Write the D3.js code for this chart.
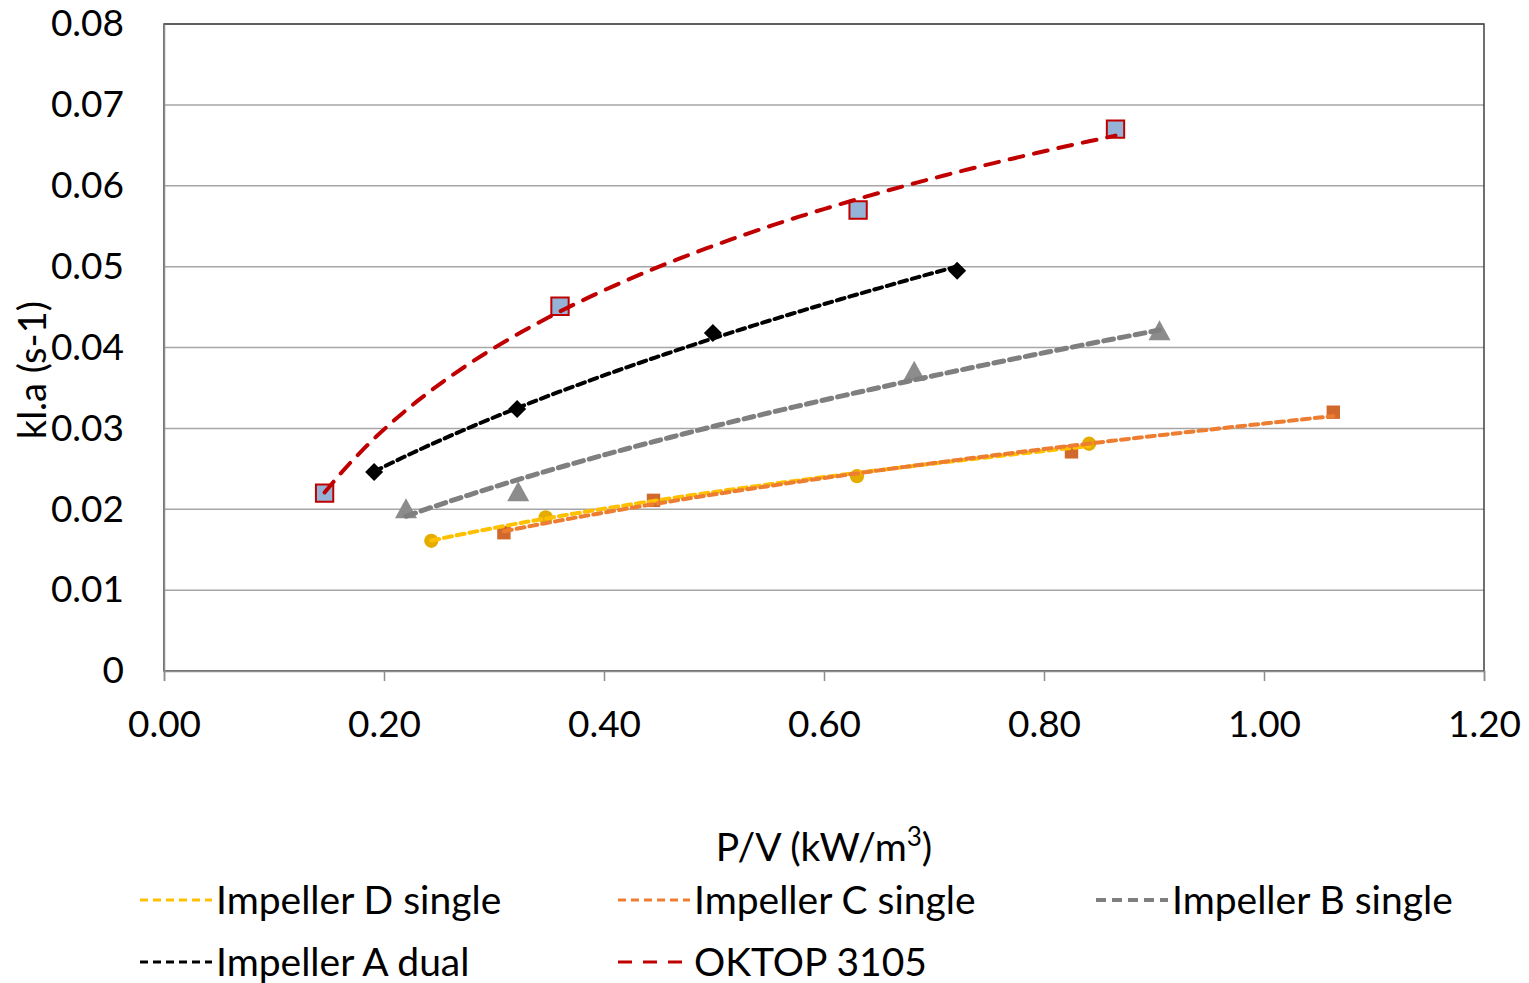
<!DOCTYPE html>
<html>
<head>
<meta charset="utf-8">
<script src="https://cdn.jsdelivr.net/npm/d3@7"></script>
<style>
  body { margin: 0; background: #fff; }
  text { font-family: Lato, "Open Sans", sans-serif; fill: #000; }
</style>
</head>
<body>
<div id="chart"></div>
<script>

var width = 1529,
    height = 983;

// data (P/V in kW/m3, kl.a in s-1)
var seriesNames = ["Impeller D single", "Impeller C single", "Impeller B single", "Impeller A dual", "OKTOP 3105"];

var impellerD_x = [0.243, 0.347, 0.630, 0.841];
var impellerD_y = [0.0161, 0.0190, 0.0241, 0.0281];

var impellerC_x = [0.309, 0.445, 0.825, 1.063];
var impellerC_y = [0.0171, 0.0211, 0.0271, 0.0320];

var impellerB_x = [0.220, 0.322, 0.682, 0.905];
var impellerB_y = [0.0200, 0.0221, 0.0370, 0.0420];

var impellerA_x = [0.191, 0.321, 0.499, 0.721];
var impellerA_y = [0.0246, 0.0324, 0.0418, 0.0495];

var oktop_x = [0.146, 0.360, 0.631, 0.865];
var oktop_y = [0.0220, 0.0451, 0.0570, 0.0670];

var xTicks = [0, 0.2, 0.4, 0.6, 0.8, 1.0, 1.2];
var yTicks = [0, 0.01, 0.02, 0.03, 0.04, 0.05, 0.06, 0.07, 0.08];

// trend type per series: power for the impellers, logarithmic for the OKTOP
var series = [
  { name: seriesNames[0], xs: impellerD_x, ys: impellerD_y, trend: "power", marker: "circle",   fill: "#e5ac00", stroke: "none",    line: "#ffc000", dash: "8,5",   lw: 4 },
  { name: seriesNames[1], xs: impellerC_x, ys: impellerC_y, trend: "power", marker: "square",   fill: "#d2692c", stroke: "none",    line: "#ed7d31", dash: "8,5",   lw: 4 },
  { name: seriesNames[2], xs: impellerB_x, ys: impellerB_y, trend: "power", marker: "triangle", fill: "#8c8c8c", stroke: "none",    line: "#7f7f7f", dash: "10,6",  lw: 5 },
  { name: seriesNames[3], xs: impellerA_x, ys: impellerA_y, trend: "power", marker: "diamond",  fill: "#000000", stroke: "none",    line: "#000000", dash: "8,5",   lw: 4 },
  { name: seriesNames[4], xs: oktop_x,     ys: oktop_y,     trend: "log",   marker: "bigsquare",fill: "#95b3d7", stroke: "#c00000", line: "#c00000", dash: "14,11", lw: 4 }
];

var margin = { top: 24, left: 164, right: 1529 - 1484, bottom: 983 - 671 };

var svg = d3.select("#chart").append("svg")
    .attr("width", width)
    .attr("height", height);

svg.append("rect").attr("width", width).attr("height", height).attr("fill", "#fff");

var x = d3.scaleLinear().domain([0, 1.2]).range([margin.left, width - margin.right]);
var y = d3.scaleLinear().domain([0, 0.08]).range([height - margin.bottom, margin.top]);

// gridlines
svg.append("g")
  .selectAll("line")
    .data(yTicks.slice(1))
  .enter().append("line")
    .attr("x1", x(0)).attr("x2", x(1.2))
    .attr("y1", function(d) { return y(d); })
    .attr("y2", function(d) { return y(d); })
    .attr("stroke", "#a6a6a6")
    .attr("stroke-width", 1.5);

// plot frame
svg.append("rect")
    .attr("x", x(0)).attr("y", y(0.08))
    .attr("width", x(1.2) - x(0)).attr("height", y(0) - y(0.08))
    .attr("fill", "none")
    .attr("stroke", "#404040")
    .attr("stroke-width", 1.5);

// x axis
var xAxis = d3.axisBottom(x).tickValues(xTicks).tickSize(10).tickPadding(30)
    .tickFormat(d3.format(".2f"));
var gx = svg.append("g").attr("transform", "translate(0," + y(0) + ")").call(xAxis);
gx.select(".domain").attr("stroke", "#8c8c8c").attr("stroke-width", 1.5);
gx.selectAll(".tick line").attr("stroke", "#8c8c8c").attr("stroke-width", 1.5);
gx.selectAll("text").style("font-size", "37px").attr("fill", "#000");

// y axis
var yAxis = d3.axisLeft(y).tickValues(yTicks).tickSize(0).tickPadding(40)
    .tickFormat(function(d) { return d === 0 ? "0" : d3.format(".2f")(d); });
var gy = svg.append("g").attr("transform", "translate(" + x(0) + ",0)").call(yAxis);
gy.select(".domain").attr("stroke", "#8c8c8c").attr("stroke-width", 1.5);
gy.selectAll("text").style("font-size", "37px").attr("fill", "#000");

// axis titles
svg.append("text")
    .attr("transform", "translate(46," + y(0.0372) + ") rotate(-90)")
    .attr("text-anchor", "middle")
    .style("font-size", "38px")
    .text("kl.a (s-1)");

var xt = svg.append("text")
    .attr("x", x(0.6))
    .attr("y", 861)
    .attr("text-anchor", "middle")
    .style("font-size", "39px");
xt.append("tspan").text("P/V (kW/m");
xt.append("tspan").attr("dy", -15).style("font-size", "26px").text("3");
xt.append("tspan").attr("dy", 15).text(")");

// markers
function markerPath(type) {
  if (type === "circle") return d3.symbol().type(d3.symbolCircle).size(160)();
  if (type === "square") return d3.symbol().type(d3.symbolSquare).size(180)();
  if (type === "bigsquare") return d3.symbol().type(d3.symbolSquare).size(300)();
  if (type === "triangle") return "M0,-11L11,9L-11,9Z";
  if (type === "diamond") return "M0,-9L9,0L0,9L-9,0Z";
}

series.forEach(function(s) {
  svg.append("g")
    .selectAll("path")
      .data(s.xs.map(function(v, i) { return [v, s.ys[i]]; }))
    .enter().append("path")
      .attr("d", markerPath(s.marker))
      .attr("transform", function(d) { return "translate(" + x(d[0]) + "," + y(d[1]) + ")"; })
      .attr("fill", s.fill)
      .attr("stroke", s.stroke)
      .attr("stroke-width", 2);
});

// least squares trendlines, y = a*x^b (power) or y = a + b*ln(x) (log)
function trendFit(xs, ys, type) {
  var lx = xs.map(Math.log);
  var ly = type === "power" ? ys.map(Math.log) : ys.slice();
  var mx = d3.mean(lx), my = d3.mean(ly);
  var sxy = d3.sum(lx, function(v, i) { return (v - mx) * (ly[i] - my); });
  var sxx = d3.sum(lx, function(v) { return (v - mx) * (v - mx); });
  var b = sxy / sxx, a = my - b * mx;
  if (type === "power") return function(xv) { return Math.exp(a) * Math.pow(xv, b); };
  return function(xv) { return a + b * Math.log(xv); };
}

var line = d3.line()
    .x(function(d) { return x(d[0]); })
    .y(function(d) { return y(d[1]); });

series.forEach(function(s) {
  var f = trendFit(s.xs, s.ys, s.trend);
  var x0 = d3.min(s.xs), x1 = d3.max(s.xs);
  var pts = d3.range(0, 61).map(function(i) {
    var xv = x0 + (x1 - x0) * i / 60;
    return [xv, f(xv)];
  });
  svg.append("path")
      .attr("d", line(pts))
      .attr("fill", "none")
      .attr("stroke", s.line)
      .attr("stroke-width", s.lw)
      .attr("stroke-linecap", "round")
      .attr("stroke-dasharray", s.dash);
});

// legend
var legendPos = [[140, 900], [618, 900], [1096, 900], [140, 962], [618, 962]];

series.forEach(function(s, i) {
  var g = svg.append("g").attr("transform", "translate(" + legendPos[i][0] + "," + legendPos[i][1] + ")");
  g.append("line")
      .attr("x1", 0).attr("x2", 72)
      .attr("y1", 0).attr("y2", 0)
      .attr("stroke", s.line)
      .attr("stroke-width", s.lw - 1)
      .attr("stroke-dasharray", s.dash);
  g.append("text")
      .attr("x", 76)
      .attr("y", 14)
      .style("font-size", "39px")
      .text(s.name);
});

</script>
</body>
</html>
